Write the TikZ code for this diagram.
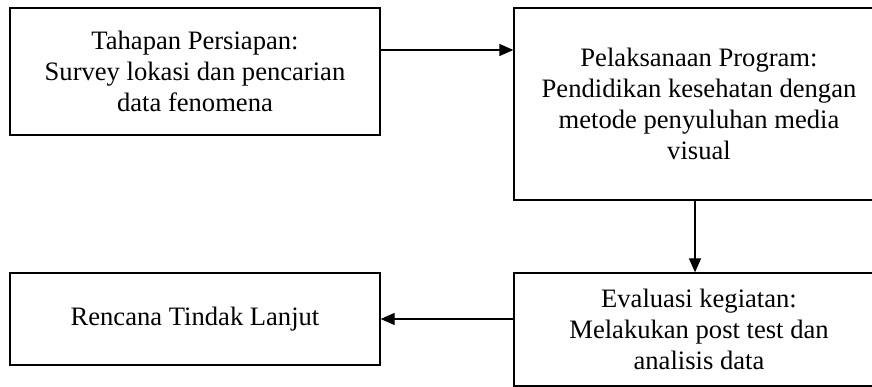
\documentclass[tikz,border=0pt]{standalone}
\usepackage{fontspec}
\setmainfont{Liberation Serif}
\usepackage{tikz}
\usetikzlibrary{arrows.meta}
\tikzset{
	boxstyle/.style={rectangle,draw=black,line width=1.3pt,fill=white,align=center,minimum width=370,inner sep=0},
	arrowstyle/.style={line width=1.3pt,-{Triangle[length=14pt,width=12pt]}}
}
\begin{document}
\begin{tikzpicture}[x=1pt,y=-1pt]
	\fontsize{26.6}{31}\selectfont
	\useasboundingbox (0,0) rectangle (872,387);
	\clip (0,0) rectangle (872,387);
	\node[boxstyle,minimum height=127] (prep) at (195,71.5) {Tahapan Persiapan:\\Survey lokasi dan pencarian\\data fenomena};
	\node[boxstyle,minimum height=192] (prog) at (699,104) {Pelaksanaan Program:\\Pendidikan kesehatan dengan\\metode penyuluhan media\\visual};
	\node[boxstyle,minimum height=113] (eval) at (699,329.5) {Evaluasi kegiatan:\\Melakukan post test dan\\analisis data};
	\node[boxstyle,minimum height=92] (rtl) at (195,319) {Rencana Tindak Lanjut};
	\draw[arrowstyle] ([yshift=21.5pt]prep.east) -- ([yshift=21.5pt]prep.east -| prog.west);
	\draw[arrowstyle] ([xshift=-4pt]prog.south) -- ([xshift=-4pt]eval.north);
	\draw[arrowstyle] (eval.west |- rtl.east) -- (rtl.east);
\end{tikzpicture}
\end{document}
